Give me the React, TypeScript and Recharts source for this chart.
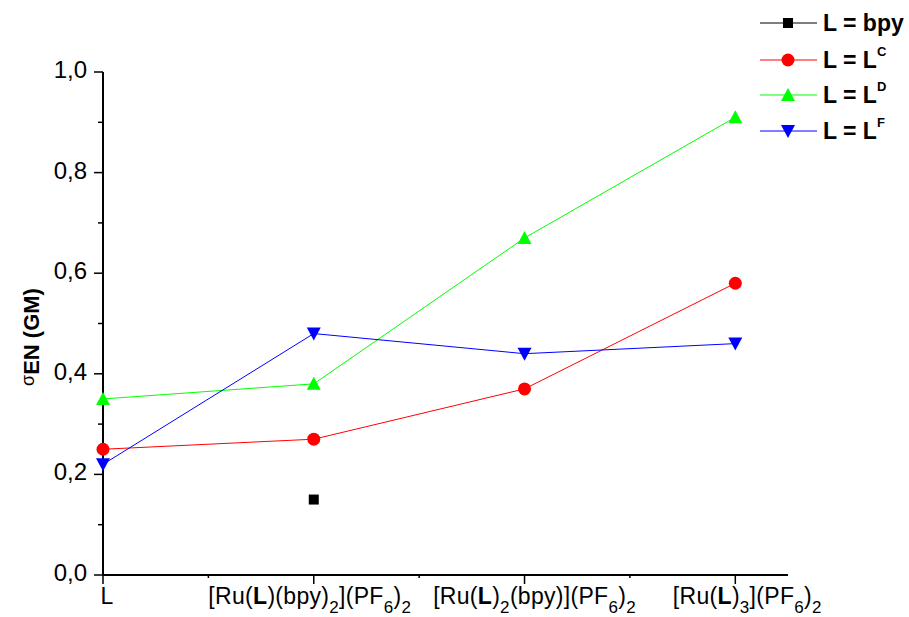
import React from 'react';
import { LineChart, Line, XAxis, YAxis, Legend } from 'recharts';

// category positions on the x axis and the tick labels (_x = subscript, *x* = bold)
const categories = [0, 1, 2, 3];
const tickLabels = ['L', '[Ru(*L*)(bpy)_2](PF_6)_2', '[Ru(*L*)_2(bpy)](PF_6)_2', '[Ru(*L*)_3](PF_6)_2'];
const tickLabelShift = [4, -4, 10, 12];

// series values (sigma EN, GM)
const bpy = [null, 0.15, null, null];
const lC = [0.25, 0.27, 0.37, 0.58];
const lD = [0.35, 0.38, 0.67, 0.91];
const lF = [0.22, 0.48, 0.44, 0.46];

const seriesKeys = ['bpy', 'lC', 'lD', 'lF'];
const seriesNames = ['L = bpy', 'L = L', 'L = L', 'L = L'];
const seriesSup = ['', 'C', 'D', 'F'];
const seriesColors = ['#000000', '#ff0000', '#00ff00', '#0000ff'];
const seriesShapes = ['square', 'circle', 'up', 'down'];

const yTicks = [0, 0.1, 0.2, 0.3, 0.4, 0.5, 0.6, 0.7, 0.8, 0.9, 1.0];
const xTicks = [0, 0.5, 1, 1.5, 2, 2.5, 3];

const FONT = '"Liberation Sans", Arial, sans-serif';

const rows = categories.map((c, i) => ({
    x: c,
    bpy: bpy[i],
    lC: lC[i],
    lD: lD[i],
    lF: lF[i],
}));

function Marker({ cx, cy, shape, color }: any) {
    if (cx == null || cy == null) return null;
    if (shape === 'square') return <rect x={cx - 5} y={cy - 5} width={10} height={10} fill={color} />;
    if (shape === 'circle') return <circle cx={cx} cy={cy} r={6.5} fill={color} />;
    if (shape === 'up') return <polygon points={`${cx - 7},${cy + 6} ${cx + 7},${cy + 6} ${cx},${cy - 7}`} fill={color} />;
    return <polygon points={`${cx - 7},${cy - 6} ${cx + 7},${cy - 6} ${cx},${cy + 7}`} fill={color} />;
}

// split a label like "[Ru(*L*)_2]" into tspans
function parseLabel(s: string) {
    const out: { t: string; sub?: boolean; bold?: boolean }[] = [];
    let buf = '';
    for (let i = 0; i < s.length; i++) {
        const ch = s[i];
        if (ch === '_') {
            if (buf) out.push({ t: buf }); buf = '';
            out.push({ t: s[i + 1], sub: true }); i++;
        } else if (ch === '*') {
            if (buf) out.push({ t: buf }); buf = '';
            const j = s.indexOf('*', i + 1);
            out.push({ t: s.slice(i + 1, j), bold: true }); i = j;
        } else buf += ch;
    }
    if (buf) out.push({ t: buf });
    return out;
}

function XTick({ x, y, payload }: any) {
    const v = payload.value;
    const major = Number.isInteger(v);
    let parts: any[] = [];
    if (major) {
        const segs = parseLabel(tickLabels[v]);
        let low = false;
        parts = segs.map((s, k) => {
            let dy = 0;
            if (s.sub && !low) { dy = 9; low = true; }
            else if (!s.sub && low) { dy = -9; low = false; }
            return (
                <tspan key={k} dy={dy} fontSize={s.sub ? 17 : 23} fontWeight={s.bold ? 'bold' : 'normal'}>{s.t}</tspan>
            );
        });
    }
    return (
        <g>
            <line x1={x} x2={x} y1={y} y2={y + (major ? 9 : 3)} stroke="#000" strokeWidth={1.5} />
            {major && (
                <text x={x + tickLabelShift[v]} y={y + 29} textAnchor="middle" fontFamily={FONT} letterSpacing={0.3} fill="#000">{parts}</text>
            )}
        </g>
    );
}

function YTick({ x, y, payload }: any) {
    const v = payload.value;
    const major = Math.round(v * 10) % 2 === 0;
    return (
        <g>
            <line x1={x - (major ? 9 : 5)} x2={x} y1={y} y2={y} stroke="#000" strokeWidth={1.5} />
            {major && (
                <text x={x - 16} y={y + 6} textAnchor="end" fontFamily={FONT} fontSize={24} fill="#000">
                    {v.toFixed(1).replace('.', ',')}
                </text>
            )}
        </g>
    );
}

function YLabel() {
    const cx = 39, cy = 337;
    return (
        <text x={cx} y={cy} transform={`rotate(-90, ${cx}, ${cy})`} textAnchor="middle" fontFamily={FONT} fill="#000">
            <tspan fontSize={18} dy={-5}>σ</tspan>
            <tspan fontSize={22} fontWeight="bold" dy={5}>EN (GM)</tspan>
        </text>
    );
}

function LegendBox() {
    const rowY = [23, 60, 95, 131];
    return (
        <svg width={159} height={150} style={{ display: 'block' }}>
            {seriesKeys.map((k, i) => (
                <g key={k}>
                    <line x1={10} x2={67} y1={rowY[i]} y2={rowY[i]} stroke={seriesColors[i]} strokeWidth={1} />
                    <Marker cx={38} cy={rowY[i]} shape={seriesShapes[i]} color={seriesColors[i]} />
                    <text x={73} y={rowY[i] + 8} fontFamily={FONT} fontSize={23} fontWeight="bold" fill="#000">
                        {seriesNames[i]}
                        {seriesSup[i] && <tspan fontSize={13} dy={-12}>{seriesSup[i]}</tspan>}
                    </text>
                </g>
            ))}
        </svg>
    );
}

export default function App() {
    return (
        <div style={{ position: 'absolute', left: 0, top: 0, width: 909, height: 617, background: '#fff' }}>
            <LineChart width={909} height={617} data={rows} margin={{ top: 72, right: 121, bottom: 0, left: 0 }}>
                <XAxis
                    dataKey="x"
                    type="number"
                    domain={[0, 3.25]}
                    ticks={xTicks}
                    tick={<XTick />}
                    tickLine={false}
                    tickSize={0}
                    tickMargin={0}
                    height={42}
                    axisLine={{ stroke: '#000', strokeWidth: 2 }}
                    interval={0}
                />
                <YAxis
                    type="number"
                    domain={[0, 1]}
                    ticks={yTicks}
                    tick={<YTick />}
                    tickLine={false}
                    tickSize={0}
                    tickMargin={0}
                    width={103}
                    axisLine={{ stroke: '#000', strokeWidth: 2 }}
                    interval={0}
                    label={<YLabel />}
                />
                <Legend
                    layout="vertical"
                    align="center"
                    verticalAlign="middle"
                    content={() => <LegendBox />}
                    wrapperStyle={{ left: 750, top: 0, width: 159 }}
                />
                {seriesKeys.map((k, i) => (
                    <Line
                        key={k}
                        dataKey={k}
                        name={seriesNames[i] + seriesSup[i]}
                        stroke={seriesColors[i]}
                        strokeWidth={1}
                        isAnimationActive={false}
                        dot={(p: any) => <Marker key={`${k}-${p.index}`} cx={p.cx} cy={p.cy} shape={seriesShapes[i]} color={seriesColors[i]} />}
                        activeDot={false}
                    />
                ))}
            </LineChart>
        </div>
    );
}
